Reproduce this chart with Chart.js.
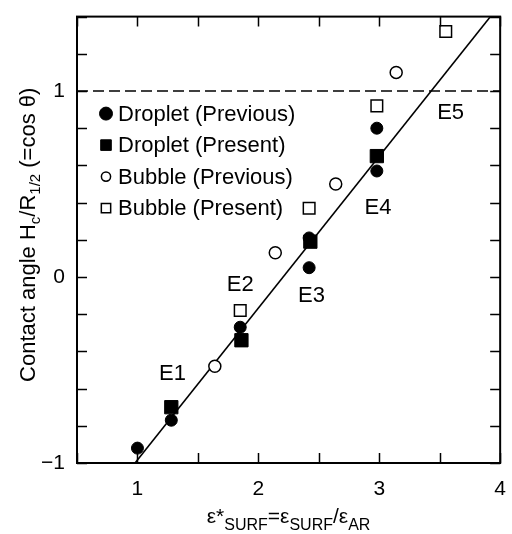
<!DOCTYPE html>
<html>
<head>
<meta charset="utf-8">
<script src="https://cdn.jsdelivr.net/npm/chart.js@4.4.1/dist/chart.umd.min.js"></script>
<style>
    html, body { margin: 0; padding: 0; background: #fff; }
    #wrap { width: 512px; height: 534px; }
</style>
</head>
<body>
<div id="wrap"><canvas id="contactChart" width="512" height="534"></canvas></div>
<script>
// ─────────────────────────────────────────────
// DATA
// ─────────────────────────────────────────────
var dropletPrevX = [1.00, 1.28, 1.85, 2.42, 2.42, 2.98, 2.98];
var dropletPrevY = [-0.92, -0.77, -0.27, 0.21, 0.05, 0.80, 0.57];

var dropletPresX = [1.28, 1.86, 2.43, 2.98];
var dropletPresY = [-0.70, -0.34, 0.19, 0.65];

var bubblePrevX = [1.64, 2.14, 2.64, 3.14];
var bubblePrevY = [-0.48, 0.13, 0.50, 1.10];

var bubblePresX = [1.85, 2.42, 2.98, 3.55];
var bubblePresY = [-0.18, 0.37, 0.92, 1.32];

var fitLineX = [0.98, 3.92];
var fitLineY = [-1.00, 1.40];

var unityX = [0.5, 4.0];
var unityY = [1.0, 1.0];

var seriesNames = ['Droplet (Previous)', 'Droplet (Present)', 'Bubble (Previous)', 'Bubble (Present)'];

var caseNames = ['E1', 'E2', 'E3', 'E4', 'E5'];
var caseX     = [1.29, 1.85, 2.44, 2.99, 3.59];
var caseY     = [-0.52, -0.04, -0.10, 0.37, 0.88];

var xTickLabels = [1, 2, 3, 4];
var yTickLabels = [-1, 0, 1];

(function () {

    var FONT = "'Liberation Sans', Arial, sans-serif";

    function toPoints(xs, ys) {
        return xs.map(function (x, i) { return { x: x, y: ys[i] }; });
    }

    function isWhole(v) {
        return Math.abs(v - Math.round(v)) < 1e-6;
    }

    // ─────────────────────────────────────────────
    // TEXT WITH SUBSCRIPTS
    // ─────────────────────────────────────────────
    // parts: [text, isSub] pairs, drawn centred on x with baseline y
    function drawRich(ctx, parts, x, y, size, subSize, subShift) {
        var widths = parts.map(function (p) {
            ctx.font = (p[1] ? subSize : size) + 'px ' + FONT;
            return ctx.measureText(p[0]).width;
        });
        var total = widths.reduce(function (a, b) { return a + b; }, 0);
        var cx = x - total / 2;
        ctx.textAlign = 'left';
        ctx.textBaseline = 'alphabetic';
        parts.forEach(function (p, i) {
            ctx.font = (p[1] ? subSize : size) + 'px ' + FONT;
            ctx.fillText(p[0], cx, p[1] ? y + subShift : y);
            cx += widths[i];
        });
    }

    // ─────────────────────────────────────────────
    // FRAME + INWARD TICKS ON ALL FOUR SIDES
    // ─────────────────────────────────────────────
    var framePlugin = {
        id: 'frame',
        afterDraw: function (chart) {
            var ctx = chart.ctx;
            var a = chart.chartArea;
            var xs = chart.scales.x, ys = chart.scales.y;
            var len = 10;
            ctx.save();
            ctx.strokeStyle = '#000';
            ctx.lineWidth = 1.5;
            ctx.beginPath();
            xs.ticks.forEach(function (t) {
                var px = Math.round(xs.getPixelForValue(t.value)) + 0.5;
                ctx.moveTo(px, a.bottom); ctx.lineTo(px, a.bottom - len);
                ctx.moveTo(px, a.top);    ctx.lineTo(px, a.top + len);
            });
            ys.ticks.forEach(function (t) {
                var py = Math.round(ys.getPixelForValue(t.value)) + 0.5;
                ctx.moveTo(a.left, py);  ctx.lineTo(a.left + len, py);
                ctx.moveTo(a.right, py); ctx.lineTo(a.right - len, py);
            });
            ctx.stroke();
            ctx.lineWidth = 2;
            ctx.strokeRect(a.left, a.top, a.right - a.left, a.bottom - a.top);
            ctx.restore();
        }
    };

    // ─────────────────────────────────────────────
    // LEGEND, CASE LABELS, AXIS TITLES
    // ─────────────────────────────────────────────
    var legendRadius = [6.5, 7.5, 4.6, 6.6];

    var textPlugin = {
        id: 'texts',
        afterDatasetsDraw: function (chart) {
            var ctx = chart.ctx;
            var a = chart.chartArea;
            var xs = chart.scales.x, ys = chart.scales.y;
            ctx.save();
            ctx.fillStyle = '#000';

            // legend inside the plot
            var lx = a.left + 29, ly = a.top + 97, step = 31.5;
            seriesNames.forEach(function (name, i) {
                var ds = chart.data.datasets[i];
                var y = ly + i * step;
                ctx.fillStyle = ds.backgroundColor;
                ctx.strokeStyle = ds.borderColor;
                ctx.lineWidth = ds.borderWidth;
                Chart.helpers.drawPoint(ctx, {
                    pointStyle: ds.pointStyle,
                    radius: legendRadius[i],
                    borderWidth: ds.borderWidth
                }, lx, y);
                ctx.fillStyle = '#000';
                ctx.font = '22px ' + FONT;
                ctx.textAlign = 'left';
                ctx.textBaseline = 'middle';
                ctx.fillText(name, lx + 12, y + 1);
            });

            // experiment case labels
            ctx.font = '22px ' + FONT;
            ctx.textAlign = 'center';
            ctx.textBaseline = 'middle';
            caseNames.forEach(function (n, i) {
                ctx.fillText(n, xs.getPixelForValue(caseX[i]), ys.getPixelForValue(caseY[i]));
            });

            // x axis title
            drawRich(ctx, [['ε*', false], ['SURF', true], ['=ε', false], ['SURF', true],
                           ['/ε', false], ['AR', true]],
                     (a.left + a.right) / 2, 523, 21, 16, 7);

            // y axis title, rotated
            ctx.translate(35, (a.top + a.bottom) / 2 - 5);
            ctx.rotate(-Math.PI / 2);
            drawRich(ctx, [['Contact angle H', false], ['c', true], ['/R', false],
                           ['1/2', true], [' (=cos θ)', false]],
                     0, 0, 22, 15, 5);
            ctx.restore();
        }
    };

    // ─────────────────────────────────────────────
    // CHART
    // ─────────────────────────────────────────────
    var tickFont = { family: FONT, size: 21 };

    new Chart(document.getElementById('contactChart').getContext('2d'), {
        type: 'scatter',
        data: {
            datasets: [
                {
                    label: seriesNames[0],
                    data: toPoints(dropletPrevX, dropletPrevY),
                    pointStyle: 'circle', pointRadius: 6,
                    backgroundColor: '#000', borderColor: '#000', borderWidth: 1
                },
                {
                    label: seriesNames[1],
                    data: toPoints(dropletPresX, dropletPresY),
                    pointStyle: 'rect', pointRadius: 9.4,
                    backgroundColor: '#000', borderColor: '#000', borderWidth: 1
                },
                {
                    label: seriesNames[2],
                    data: toPoints(bubblePrevX, bubblePrevY),
                    pointStyle: 'circle', pointRadius: 6,
                    backgroundColor: '#fff', borderColor: '#000', borderWidth: 1.5
                },
                {
                    label: seriesNames[3],
                    data: toPoints(bubblePresX, bubblePresY),
                    pointStyle: 'rect', pointRadius: 8.2,
                    backgroundColor: '#fff', borderColor: '#000', borderWidth: 1.5
                },
                {
                    label: 'fit',
                    data: toPoints(fitLineX, fitLineY),
                    showLine: true, pointRadius: 0,
                    borderColor: '#000', borderWidth: 1.6
                },
                {
                    label: 'cos = 1',
                    data: toPoints(unityX, unityY),
                    showLine: true, pointRadius: 0,
                    borderColor: '#000', borderWidth: 1.6,
                    borderDash: [11, 5]
                }
            ]
        },
        options: {
            responsive: false,
            animation: false,
            layout: { padding: { top: 7, right: 7, left: 0, bottom: 0 } },
            plugins: {
                legend: { display: false },
                tooltip: { enabled: false }
            },
            scales: {
                x: {
                    type: 'linear',
                    min: 0.5, max: 4,
                    grid: { display: false },
                    border: { display: false },
                    ticks: {
                        stepSize: 0.5,
                        autoSkip: false,
                        maxRotation: 0,
                        padding: 6,
                        color: '#000',
                        font: tickFont,
                        callback: function (v) {
                            return isWhole(v) && xTickLabels.indexOf(Math.round(v)) >= 0 ? String(Math.round(v)) : '';
                        }
                    },
                    afterFit: function (s) { s.height = 71; }
                },
                y: {
                    min: -1, max: 1.4,
                    grid: { display: false },
                    border: { display: false },
                    ticks: {
                        stepSize: 0.2,
                        autoSkip: false,
                        padding: 4,
                        color: '#000',
                        font: tickFont,
                        callback: function (v) {
                            if (!isWhole(v) || yTickLabels.indexOf(Math.round(v)) < 0) return '';
                            var n = Math.round(v);
                            return n < 0 ? '\u2212' + Math.abs(n) : String(n);
                        }
                    },
                    afterFit: function (s) { s.width = 77; }
                }
            }
        },
        plugins: [framePlugin, textPlugin]
    });

})();
</script>
</body>
</html>
